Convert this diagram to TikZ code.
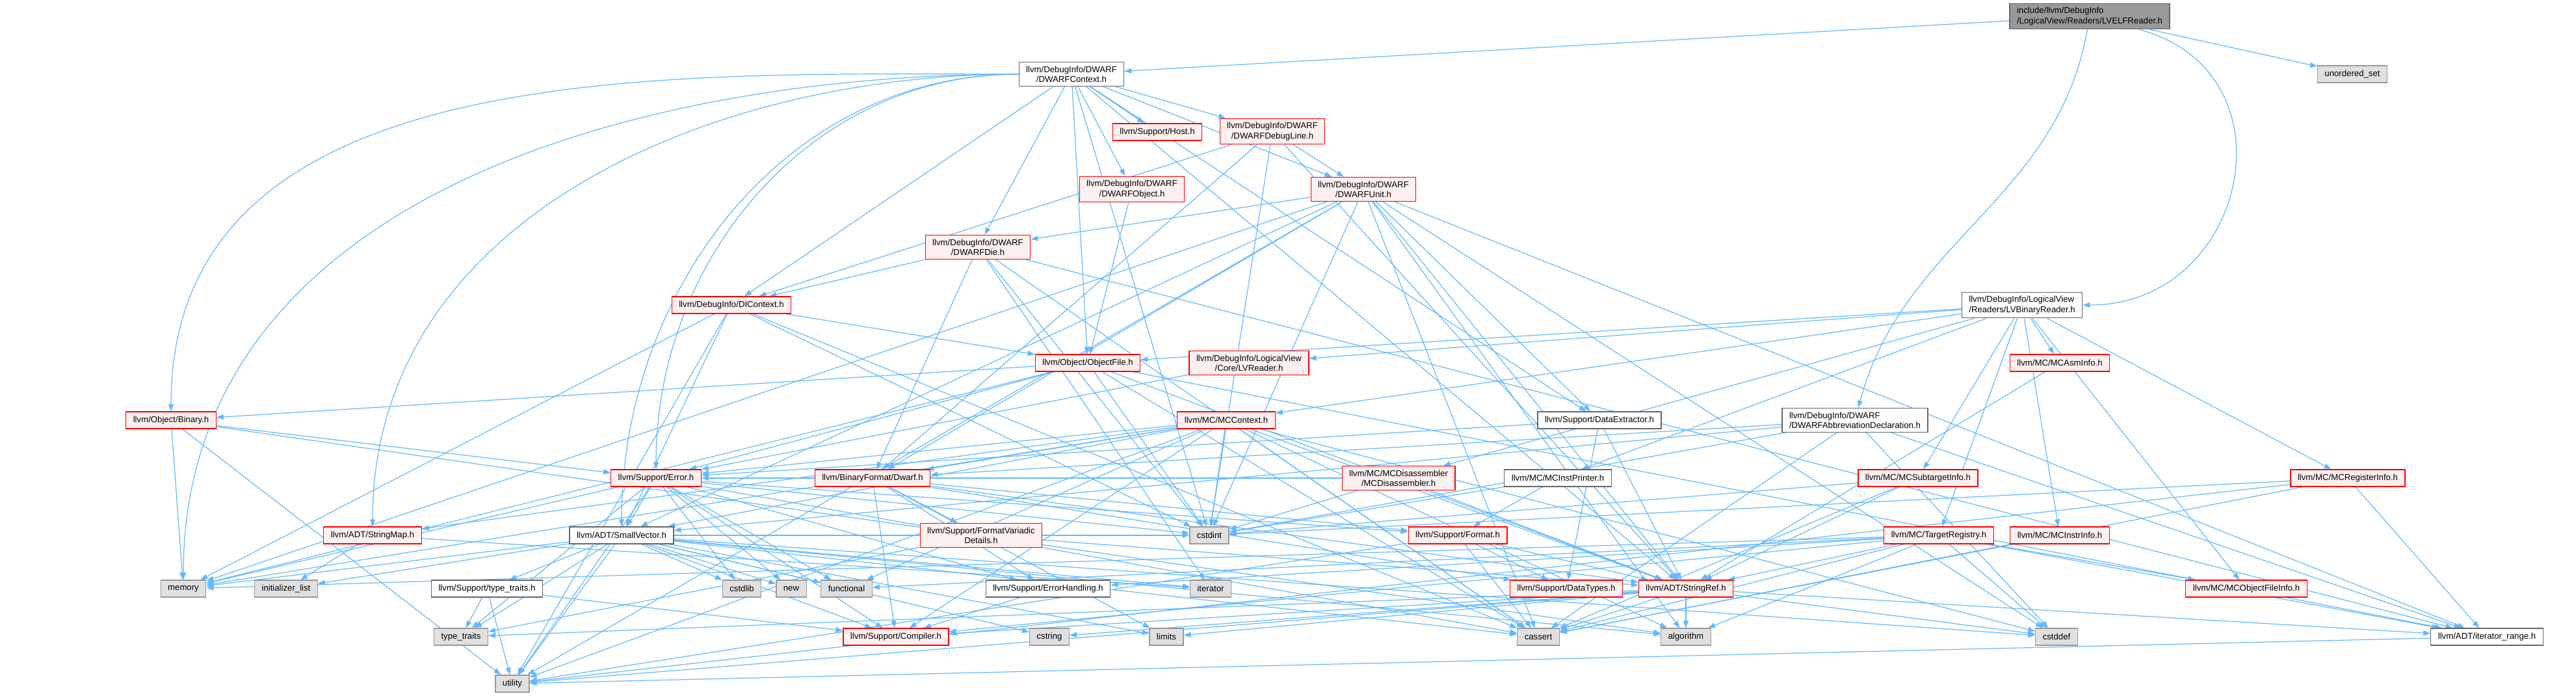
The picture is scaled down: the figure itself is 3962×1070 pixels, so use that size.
\documentclass[tikz,border=0pt]{standalone}
\usepackage{fontspec}
\setmainfont{Liberation Sans}
\usetikzlibrary{arrows.meta}
\pgfdeclarelayer{background}
\pgfsetlayers{background,main}
\definecolor{edgeblue}{HTML}{63B8FF}
\definecolor{redfill}{HTML}{FFF0F0}
\definecolor{grayfill}{HTML}{E0E0E0}
\definecolor{grayline}{HTML}{999999}
\definecolor{darkline}{HTML}{666666}
\definecolor{rootfill}{HTML}{999999}

\begin{document}
\begin{tikzpicture}[
    x=0.5pt, y=-0.5pt,
    filebox/.style={rectangle, line width=0.6pt, align=center,
                    inner xsep=5.5pt, inner ysep=3pt, minimum height=13pt,
                    font=\fontsize{6.6pt}{7.7pt}\selectfont},
    rootbox/.style={filebox, draw=darkline, fill=rootfill},
    redbox/.style={filebox, draw=red, fill=redfill},
    whitebox/.style={filebox, draw=darkline, fill=white},
    sysbox/.style={filebox, draw=grayline, fill=grayfill},
    dep/.style={draw=edgeblue, line width=0.6pt, -{Triangle[length=5.5pt, width=4pt]}},
]
\useasboundingbox (0,0) rectangle (3962,1070);

% Root file
\node[rootbox, align=left] (elf) at (3214,25) {include/llvm/DebugInfo\\/LogicalView/Readers/LVELFReader.h};
\node[sysbox] (uset) at (3618,114) {unordered\_set};

% DWARF headers
\node[whitebox] (ctx) at (1648,114) {llvm/DebugInfo/DWARF\\/DWARFContext.h};
\node[redbox] (host) at (1780,203) {llvm/Support/Host.h};
\node[redbox] (dline) at (1957,202) {llvm/DebugInfo/DWARF\\/DWARFDebugLine.h};
\node[redbox] (dobj) at (1741,291) {llvm/DebugInfo/DWARF\\/DWARFObject.h};
\node[redbox] (dunit) at (2097,291) {llvm/DebugInfo/DWARF\\/DWARFUnit.h};
\node[redbox] (ddie) at (1504,380) {llvm/DebugInfo/DWARF\\/DWARFDie.h};
\node[redbox] (dicon) at (1125,469) {llvm/DebugInfo/DIContext.h};
\node[whitebox, align=left] (lvbin) at (3110,469) {llvm/DebugInfo/LogicalView\\/Readers/LVBinaryReader.h};

% Object, MC and support headers
\node[redbox] (objfile) at (1673,558) {llvm/Object/ObjectFile.h};
\node[redbox] (lvreader) at (1921,558) {llvm/DebugInfo/LogicalView\\/Core/LVReader.h};
\node[redbox] (asminfo) at (3168,558) {llvm/MC/MCAsmInfo.h};
\node[redbox] (binary) at (263,646) {llvm/Object/Binary.h};
\node[redbox] (mcctx) at (1886,646) {llvm/MC/MCContext.h};
\node[whitebox] (dext) at (2460,646) {llvm/Support/DataExtractor.h};
\node[whitebox, align=left] (abbrev) at (2853,646) {llvm/DebugInfo/DWARF\\/DWARFAbbreviationDeclaration.h};
\node[redbox] (err) at (1009,735) {llvm/Support/Error.h};
\node[redbox] (dwarf) at (1342,735) {llvm/BinaryFormat/Dwarf.h};
\node[redbox] (mcdis) at (2151,735) {llvm/MC/MCDisassembler\\/MCDisassembler.h};
\node[whitebox] (mcprint) at (2396,735) {llvm/MC/MCInstPrinter.h};
\node[redbox] (mcsub) at (2950,735) {llvm/MC/MCSubtargetInfo.h};
\node[redbox] (mcreg) at (3611,735) {llvm/MC/MCRegisterInfo.h};
\node[redbox] (strmap) at (573,823) {llvm/ADT/StringMap.h};
\node[whitebox] (smallvec) at (956,823) {llvm/ADT/SmallVector.h};
\node[redbox] (fmtvar) at (1509,823) {llvm/Support/FormatVariadic\\Details.h};
\node[sysbox] (cstdint) at (1860,823) {cstdint};
\node[redbox] (fmt) at (2242,823) {llvm/Support/Format.h};
\node[redbox] (treg) at (2982,823) {llvm/MC/TargetRegistry.h};
\node[redbox] (mcinstr) at (3168,823) {llvm/MC/MCInstrInfo.h};
\node[sysbox] (memory) at (282,905) {memory};
\node[sysbox] (initlist) at (440,905) {initializer\_list};
\node[whitebox] (ttraitsh) at (749,905) {llvm/Support/type\_traits.h};
\node[sysbox] (cstdlib) at (1141,905) {cstdlib};
\node[sysbox] (newh) at (1217,905) {new};
\node[sysbox] (functional) at (1302,905) {functional};
\node[whitebox] (errh) at (1612,905) {llvm/Support/ErrorHandling.h};
\node[sysbox] (iterator) at (1862,905) {iterator};
\node[redbox] (dtypes) at (2409,905) {llvm/Support/DataTypes.h};
\node[redbox] (strref) at (2593,905) {llvm/ADT/StringRef.h};
\node[redbox] (mcobj) at (3455,905) {llvm/MC/MCObjectFileInfo.h};
\node[sysbox] (ttraits) at (709,979) {type\_traits};
\node[redbox] (compiler) at (1378,979) {llvm/Support/Compiler.h};
\node[sysbox] (cstring) at (1614,979) {cstring};
\node[sysbox] (limits) at (1794,979) {limits};
\node[sysbox] (cassert) at (2366,979) {cassert};
\node[sysbox] (algorithm) at (2593,979) {algorithm};
\node[sysbox] (cstddef) at (3163,979) {cstddef};
\node[whitebox] (itrange) at (3825,979) {llvm/ADT/iterator\_range.h};
\node[sysbox] (utility) at (788,1051) {utility};

% Include edges
\begin{pgfonlayer}{background}
\draw[dep] (elf) -- (ctx);
\draw[dep] (elf) -- (uset);
\draw[dep] (elf) to[out=-100, in=75] (abbrev);
\draw[dep] (elf) to[out=-15, in=0, looseness=1.5] (lvbin);

\foreach \t in {binary, strmap, memory, smallvec, err}
    \draw[dep] (ctx) to[out=180, in=90] (\t);
\foreach \t in {host, dline, dobj, dunit, ddie, dicon, objfile, dext, strref, cstdint}
    \draw[dep] (ctx) -- (\t);

\foreach \t in {dwarf, dicon, dunit, strref, cstdint}
    \draw[dep] (dline) -- (\t);
\draw[dep] (dobj) -- (objfile);
\foreach \t in {smallvec, strref, itrange, dwarf, ddie, dext, algorithm, cassert, cstddef, cstdint, memory, utility}
    \draw[dep] (dunit) -- (\t);
\foreach \t in {dicon, itrange, dwarf, cassert, cstdint, iterator}
    \draw[dep] (ddie) -- (\t);
\foreach \t in {objfile, smallvec, cassert, cstdint, memory, utility}
    \draw[dep] (dicon) -- (\t);
\foreach \t in {lvreader, objfile, asminfo, mcctx, mcdis, mcprint, mcinstr, mcobj, mcreg, mcsub, treg}
    \draw[dep] (lvbin) -- (\t);
\foreach \t in {binary, strref, itrange, err, cassert, cstdint, memory}
    \draw[dep] (objfile) -- (\t);
\draw[dep] (lvreader) -- (err);
\draw[dep] (asminfo) -- (strref);
\foreach \t in {err, memory, utility, algorithm}
    \draw[dep] (binary) -- (\t);
\foreach \t in {smallvec, strmap, strref, dwarf, compiler, err, algorithm, cassert, cstddef, cstdint, functional, memory, utility}
    \draw[dep] (mcctx) -- (\t);
\foreach \t in {err, dtypes, strref}
    \draw[dep] (dext) -- (\t);
\foreach \t in {smallvec, itrange, dwarf, cassert, cstddef, cstdint}
    \draw[dep] (abbrev) -- (\t);
\foreach \t in {smallvec, compiler, errh, fmt, cassert, cstdint, cstdlib, functional, memory, newh, ttraits, utility}
    \draw[dep] (err) -- (\t);
\foreach \t in {compiler, errh, fmt, fmtvar, dtypes, limits, strref}
    \draw[dep] (dwarf) -- (\t);
\foreach \t in {err, cstdint, strref}
    \draw[dep] (mcdis) -- (\t);
\foreach \t in {fmt, cstdint}
    \draw[dep] (mcprint) -- (\t);
\foreach \t in {strref, cassert, cstdint}
    \draw[dep] (mcsub) -- (\t);
\foreach \t in {itrange, cassert, cstdint, utility}
    \draw[dep] (mcreg) -- (\t);
\foreach \t in {initlist, iterator}
    \draw[dep] (strmap) -- (\t);
\foreach \t in {compiler, ttraitsh, algorithm, cassert, cstddef, cstdint, cstdlib, cstring, functional, initlist, iterator, limits, memory, newh, ttraits, utility}
    \draw[dep] (smallvec) -- (\t);
\foreach \t in {strref, ttraits}
    \draw[dep] (fmtvar) -- (\t);
\foreach \t in {strref, dtypes, cassert, utility}
    \draw[dep] (fmt) -- (\t);
\foreach \t in {strref, itrange, mcobj, compiler, errh, algorithm, cassert, cstddef, functional, memory}
    \draw[dep] (treg) -- (\t);
\draw[dep] (mcinstr) -- (cassert);
\foreach \t in {ttraits, utility, compiler}
    \draw[dep] (ttraitsh) -- (\t);
\draw[dep] (errh) -- (compiler);
\foreach \t in {itrange, compiler, algorithm, cassert, cstddef, cstring, limits, ttraits, utility}
    \draw[dep] (strref) -- (\t);
\draw[dep] (itrange) -- (utility);
\end{pgfonlayer}

\end{tikzpicture}
\end{document}
